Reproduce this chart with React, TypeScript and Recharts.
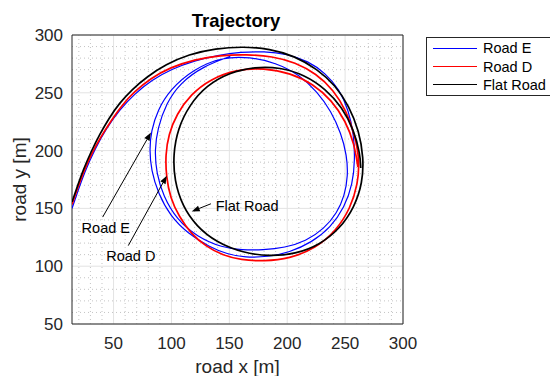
import React from "react";
import {
  ComposedChart,
  Line,
  XAxis,
  YAxis,
  CartesianGrid,
  Legend,
  ReferenceArea,
  ReferenceLine,
  ReferenceDot,
  Label,
} from "recharts";

const FONT = '"Liberation Sans", Arial, Helvetica, sans-serif';

const xTicks = [50, 100, 150, 200, 250, 300];
const yTicks = [50, 100, 150, 200, 250, 300];
const xMinor = [20, 30, 40, 60, 70, 80, 90, 110, 120, 130, 140, 160, 170, 180, 190, 210, 220, 230, 240, 260, 270, 280, 290];
const yMinor = [60, 70, 80, 90, 110, 120, 130, 140, 160, 170, 180, 190, 210, 220, 230, 240, 260, 270, 280, 290];

const seriesOrder = ["Road E", "Road D", "Flat Road"];

// trajectories, [x, y] in metres
const roadE: [number, number][] = [
  [14.1, 150], [18, 161.5], [25, 181.5], [34, 201.5], [44, 219.5], [55, 235], [68, 249], [83, 261],
  [100, 270.5], [120, 277.8], [140, 282.5], [160, 285.3], [180, 285.8], [200, 283.5], [218, 277.5],
  [233, 267], [245, 253], [253, 235], [257.5, 214], [258.5, 192], [256.5, 171], [249.5, 151], [237.5, 133.5],
  [221, 120.5], [202, 112], [183, 108], [164, 107.5], [148, 110.5], [133, 116.5], [114, 128.5], [99, 143.5],
  [88.5, 163], [82.5, 183], [81, 201], [82.5, 217], [88, 235], [99, 253], [119, 270.5], [144, 281],
  [168, 281], [190, 276], [210, 266], [226, 251], [238, 234], [246.5, 215], [251.5, 196], [252.5, 178],
  [249.5, 161], [243, 146], [232, 132.5], [216, 121.5], [198, 116], [179, 114], [161, 114], [144, 116],
  [122, 125.5], [104.5, 140.5], [93, 160.5], [87, 180.5], [85.5, 200.5], [88, 219], [95.5, 241],
  [107.5, 258.5], [127.5, 273], [150.8, 281.5],
];

const roadD: [number, number][] = [
  [14.1, 153.5], [18, 165], [24, 181.5], [31, 197.5], [39, 212], [48, 226], [57, 239], [68, 251],
  [82, 262.5], [99, 272], [120, 278.8], [142, 282.5], [165, 283.2], [187, 281.6], [207, 276.3], [225, 266.5],
  [240, 252.5], [251, 234.5], [258.5, 213], [262.5, 192], [261, 171], [254.5, 150], [242.5, 131], [224.5, 115.5],
  [202, 106.5], [180, 104.3], [160, 105.3], [144, 109.5], [130, 117], [117, 128], [106.5, 143], [99, 159],
  [95.5, 177.6], [94.8, 196], [97.5, 214], [104.5, 231.5], [116.5, 248.5], [134, 262], [156, 270], [180, 271.5],
  [203, 267], [222.5, 257.5], [238.5, 243.5], [250.5, 225.5], [258, 205.5], [261, 186],
];

const flatRoad: [number, number][] = [
  [14.1, 155.5], [18, 167], [24, 184], [31, 200], [38, 214], [46, 228], [55, 241], [66, 253], [79, 264],
  [95, 274.5], [115, 283.3], [138, 288.3], [162, 290], [185, 288], [206, 282], [226, 270.5], [241.5, 256.5],
  [253.5, 238.5], [262, 217], [266, 194], [265, 172], [258, 151], [245.5, 132.5], [228, 118.5], [207, 110.5],
  [185, 108.5], [162, 111.5], [139, 120.5], [121.5, 134.5], [109.5, 152], [102.5, 174], [101.5, 197], [105.5, 219],
  [115.5, 239.5], [130.5, 256.5], [150, 267.5], [172, 272.5], [194, 272], [215, 265.5], [233, 253.5], [247.5, 237.5],
  [257.5, 218], [263, 197], [263.5, 185],
];

// text arrows, in data units
const notes = [
  { text: "Road E", tx: 43.3, ty: 133.5, from: [40.6, 142.5], to: [82.3, 215.6] },
  { text: "Road D", tx: 64.9, ty: 109.2, from: [62.7, 117.8], to: [96.0, 178.2] },
  { text: "Flat Road", tx: 165.4, ty: 152.1, from: [134.1, 154.0], to: [117.5, 147.4] },
];

const rows = (p: [number, number][]) => p.map(([x, y]) => ({ x, y }));

const Arrow = (props: any) => {
  const { x1, y1, x2, y2 } = props;
  const a = Math.atan2(y2 - y1, x2 - x1);
  const len = 8;
  const w = 3;
  const bx = x2 - len * Math.cos(a);
  const by = y2 - len * Math.sin(a);
  const pts = [
    [x2, y2],
    [bx + w * Math.sin(a), by - w * Math.cos(a)],
    [bx - w * Math.sin(a), by + w * Math.cos(a)],
  ]
    .map((p) => p.join(","))
    .join(" ");
  return (
    <g>
      <line x1={x1} y1={y1} x2={bx} y2={by} stroke="#000" strokeWidth={1} />
      <polygon points={pts} fill="#000" />
    </g>
  );
};

const renderLegend = (props: any) => {
  const items = [...(props.payload || [])].sort(
    (a: any, b: any) => seriesOrder.indexOf(a.value) - seriesOrder.indexOf(b.value)
  );
  return (
    <div
      style={{
        border: "1px solid #262626",
        background: "#fff",
        width: 130,
        boxSizing: "border-box",
        padding: "1px 0 1px 6px",
        fontFamily: FONT,
        fontSize: 14.5,
        color: "#000",
      }}
    >
      {items.map((p: any) => (
        <div key={p.value} style={{ display: "flex", alignItems: "center", height: 18.4 }}>
          <span style={{ width: 44, borderTop: `1.5px solid ${p.color}`, marginRight: 6 }} />
          <span>{p.value}</span>
        </div>
      ))}
    </div>
  );
};

export default function App() {
  return (
    <div style={{ position: "absolute", left: 0, top: 0, width: 550, height: 376, background: "#fff" }}>
      <div
        style={{
          position: "absolute",
          left: 136,
          width: 200,
          top: 12,
          textAlign: "center",
          fontFamily: FONT,
          fontWeight: "bold",
          fontSize: 18.5,
          lineHeight: 1,
          color: "#000",
        }}
      >
        Trajectory
      </div>
      <ComposedChart width={550} height={376} margin={{ top: 35, right: 147, bottom: 0, left: 0 }}>
        <CartesianGrid
          horizontalValues={yMinor}
          verticalValues={xMinor}
          stroke="#c4c4c4"
          strokeDasharray="1 3"
        />
        <CartesianGrid horizontalValues={yTicks} verticalValues={xTicks} stroke="#e3e3e3" />
        <XAxis
          type="number"
          dataKey="x"
          domain={[14.1, 300]}
          ticks={xTicks}
          interval={0}
          allowDataOverflow
          height={52}
          axisLine={false}
          tickLine={false}
          tickSize={0}
          tickMargin={13}
          tick={{ fill: "#262626", fontSize: 17, fontFamily: FONT }}
        >
          <Label value="road x [m]" position="insideBottom" offset={3} fill="#262626" fontSize={19} fontFamily={FONT} />
        </XAxis>
        <YAxis
          type="number"
          dataKey="y"
          domain={[50, 300]}
          ticks={yTicks}
          interval={0}
          allowDataOverflow
          width={72}
          axisLine={false}
          tickLine={false}
          tickSize={0}
          tickMargin={9}
          tick={{ fill: "#262626", fontSize: 17, fontFamily: FONT }}
        >
          <Label
            content={() => (
              <text
                x={26}
                y={179.5}
                transform="rotate(-90 26 179.5)"
                textAnchor="middle"
                fill="#262626"
                fontSize={19}
                fontFamily={FONT}
              >
                road y [m]
              </text>
            )}
          />
        </YAxis>
        <ReferenceArea x1={14.1} x2={300} y1={50} y2={300} fill="none" stroke="#262626" strokeWidth={1} ifOverflow="visible" />
        <Line data={rows(roadE)} dataKey="y" name="Road E" type="basis" stroke="#0000ff" strokeWidth={1.2} dot={false} activeDot={false} isAnimationActive={false} />
        <Line data={rows(roadD)} dataKey="y" name="Road D" type="basis" stroke="#ff0000" strokeWidth={1.7} dot={false} activeDot={false} isAnimationActive={false} />
        <Line data={rows(flatRoad)} dataKey="y" name="Flat Road" type="basis" stroke="#000000" strokeWidth={1.7} dot={false} activeDot={false} isAnimationActive={false} />
        {notes.map((n) => (
          <ReferenceLine
            key={n.text + "-arrow"}
            segment={[{ x: n.from[0], y: n.from[1] }, { x: n.to[0], y: n.to[1] }]}
            ifOverflow="visible"
            shape={Arrow}
          />
        ))}
        {notes.map((n) => (
          <ReferenceDot
            key={n.text}
            x={n.tx}
            y={n.ty}
            r={0}
            fill="none"
            stroke="none"
            ifOverflow="visible"
            label={{ value: n.text, position: "center", fontSize: 14.5, fill: "#000", fontFamily: FONT }}
          />
        ))}
        <Legend
          layout="horizontal"
          verticalAlign="middle"
          content={renderLegend}
          wrapperStyle={{ position: "absolute", left: 426, top: 37, width: 130 }}
        />
      </ComposedChart>
    </div>
  );
}
